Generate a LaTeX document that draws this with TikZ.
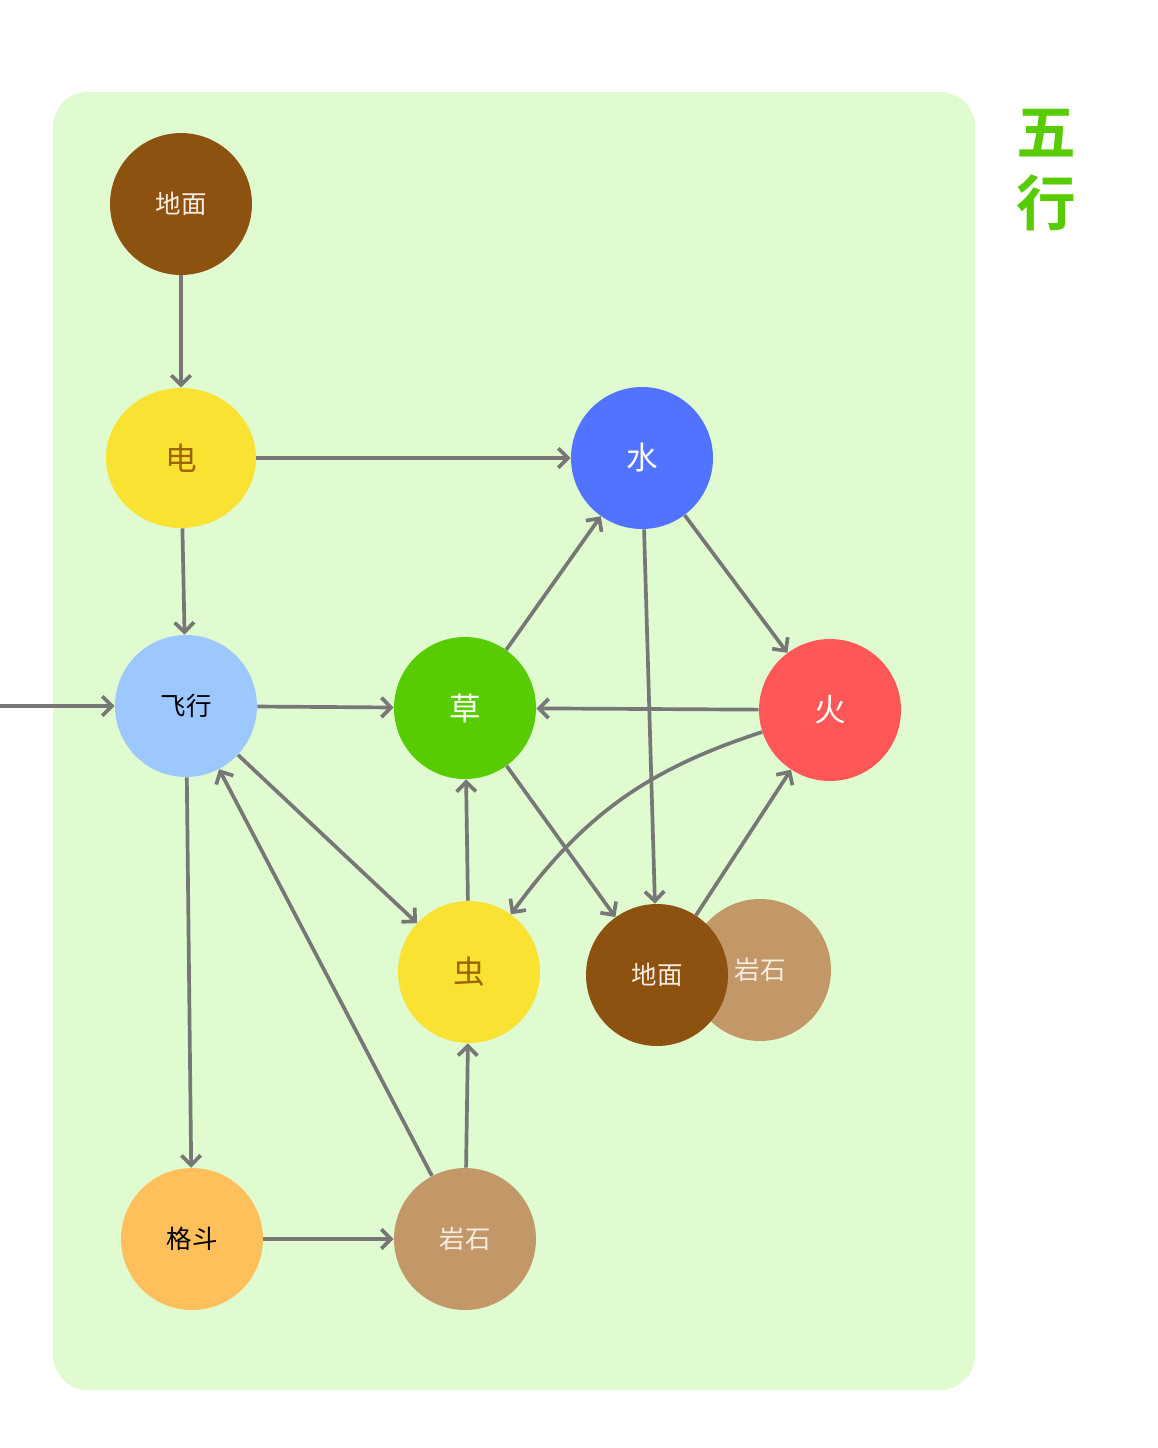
\documentclass[tikz,border=0pt]{standalone}
\usepackage{fontspec}
\usepackage{tikz}
\usetikzlibrary{arrows.meta}
\usetikzlibrary{shapes.geometric}
\setmainfont{Noto Sans CJK SC}
\newfontfamily\cjkbold{Noto Sans CJK SC Bold}
\definecolor{panelgreen}{HTML}{E0FBD0}
\definecolor{edgegray}{HTML}{777777}
\definecolor{cbrown}{HTML}{8E5210}
\definecolor{cyellow}{HTML}{F9E231}
\definecolor{cblue}{HTML}{5273FF}
\definecolor{clightblue}{HTML}{9DC8FF}
\definecolor{cgreen}{HTML}{58CC02}
\definecolor{cred}{HTML}{FF5757}
\definecolor{ctan}{HTML}{C39869}
\definecolor{corange}{HTML}{FFC05B}
\definecolor{cdarkgold}{HTML}{9A6405}
\definecolor{clighttext}{HTML}{F7ECE0}

\begin{document}
\begin{tikzpicture}
[x=0.02cm,y=-0.02cm,every node/.style={circle,minimum size=2.84cm,inner sep=0pt,font=\fontsize{14.5}{14.5}\selectfont},
 link/.style={draw=edgegray,line width=2.1pt,-{Straight Barb[length=5.5pt,width=11pt,line width=2.1pt]}}]

  \useasboundingbox (0,0) rectangle (1158,1448);
  \fill[panelgreen,rounded corners=0.7cm] (53,92) rectangle (975,1390);

  \node[fill=cbrown,text=clighttext] (dimianA) at (181,204) {地面};
  \node[fill=cyellow,text=cdarkgold,ellipse,minimum width=3cm,minimum height=2.8cm,font=\fontsize{18}{18}\selectfont] (dian) at (181,458) {电};
  \node[fill=cblue,text=white,font=\fontsize{18}{18}\selectfont] (shui) at (642,458) {水};
  \node[fill=clightblue,text=black] (feixing) at (186,706) {飞行};
  \node[fill=cgreen,text=white,font=\fontsize{18}{18}\selectfont] (cao) at (465,708) {草};
  \node[fill=cred,text=white,font=\fontsize{18}{18}\selectfont] (huo) at (830,710) {火};
  \node[fill=cyellow,text=cdarkgold,font=\fontsize{18}{18}\selectfont] (chong) at (469,972) {虫};
  \node[fill=ctan,text=clighttext] (yanshiB) at (760,970) {岩石};
  \node[fill=cbrown,text=clighttext] (dimianB) at (657,975) {地面};
  \node[fill=corange,text=black] (gedou) at (192,1239) {格斗};
  \node[fill=ctan,text=clighttext] (yanshiA) at (465,1239) {岩石};
  \coordinate (outside) at (0,706);

  \node[rectangle,minimum size=0pt,text=cgreen,font=\cjkbold\fontsize{34}{40}\selectfont,align=center] (title) at (1046,170) {五\\行};

  \foreach \from/\to in {dimianA/dian, dian/shui, dian/feixing, outside/feixing, feixing/cao, feixing/chong, feixing/gedou, yanshiA/feixing, cao/shui}
    \draw[link] (\from) -- (\to);
  \foreach \from/\to in {cao/dimianB, shui/huo, shui/dimianB, huo/cao, dimianB/huo, chong/cao, yanshiA/chong, gedou/yanshiA}
    \draw[link] (\from) -- (\to);
  \draw[link] (huo) to[bend right=18] (chong);

\end{tikzpicture}
\end{document}
